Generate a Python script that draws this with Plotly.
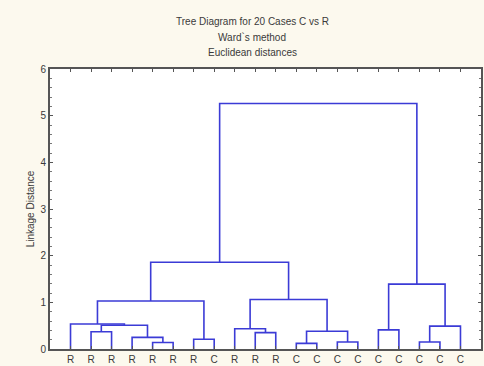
import plotly.graph_objects as go

# Leaf labels in dendrogram order (left to right)
leaf_labels = ["R", "R", "R", "R", "R", "R", "R", "C", "R", "R",
               "R", "C", "C", "C", "C", "C", "C", "C", "C", "C"]

# Merge table (scipy-style): leaves are 0..19, merge k creates node 20+k
merge_left = [4, 3, 1, 22, 0, 6, 24, 9, 8, 11, 13, 29, 28, 26, 15, 17, 35, 34, 33]
merge_right = [5, 20, 2, 21, 23, 7, 25, 10, 27, 12, 14, 30, 31, 32, 16, 18, 19, 36, 37]
merge_height = [0.14, 0.25, 0.37, 0.51, 0.535, 0.21, 1.03, 0.35, 0.435, 0.12,
                0.15, 0.38, 1.06, 1.86, 0.41, 0.15, 0.49, 1.39, 5.26]

title_lines = ["Tree Diagram for 20 Cases C vs R", "Ward`s method", "Euclidean distances"]

n = len(leaf_labels)
leaf_pos = list(range(1, n + 1))
node_x = {i: leaf_pos[i] for i in range(n)}
node_h = {i: 0.0 for i in range(n)}

xs, ys = [], []
for k, (a, b, h) in enumerate(zip(merge_left, merge_right, merge_height)):
    xa, xb = node_x[a], node_x[b]
    xs += [xa, xa, xb, xb, None]
    ys += [node_h[a], h, h, node_h[b], None]
    node_x[n + k] = (xa + xb) / 2
    node_h[n + k] = h

fig = go.Figure()
fig.add_trace(go.Scatter(x=xs, y=ys, mode="lines",
                         line=dict(color="#3b3bd6", width=1.6),
                         hoverinfo="skip", showlegend=False))

W, H = 484, 366
L, R, T, B = 50, 1, 69, 17
plot_w = W - L - R
plot_h = H - T - B

def px_to_paper(xp, yp):
    return (xp - L) / plot_w, (H - B - yp) / plot_h

text_color = "#3a3a3a"
font_family = "Liberation Sans, Arial, sans-serif"
for line, yp in zip(title_lines, [22, 38, 53]):
    xpp, ypp = px_to_paper(253, yp)
    fig.add_annotation(text=line, x=xpp, y=ypp, xref="paper", yref="paper",
                       showarrow=False, xanchor="center", yanchor="middle",
                       font=dict(family=font_family, size=10, color=text_color))

axis_common = dict(showline=True, linecolor="#555555", linewidth=2, mirror="ticks",
                   ticks="inside", tickcolor="#555555", showgrid=False, zeroline=False)

fig.update_xaxes(range=[0, n + 1], tickvals=leaf_pos, ticktext=leaf_labels,
                 ticklen=3, tickwidth=1,
                 tickfont=dict(family=font_family, size=10, color=text_color),
                 **axis_common)
fig.update_yaxes(range=[0, 6], dtick=1, ticklen=3, tickwidth=1,
                 minor=dict(dtick=0.2, ticks="inside", ticklen=2, tickcolor="#777777"),
                 tickfont=dict(family=font_family, size=10, color=text_color),
                 title=dict(text="Linkage Distance", standoff=4,
                            font=dict(family=font_family, size=10, color=text_color)),
                 **axis_common)

fig.update_layout(width=W, height=H,
                  margin=dict(l=L, r=R, t=T, b=B, pad=0),
                  paper_bgcolor="#fcf9ee", plot_bgcolor="#ffffff")

fig.write_html("out.html")
